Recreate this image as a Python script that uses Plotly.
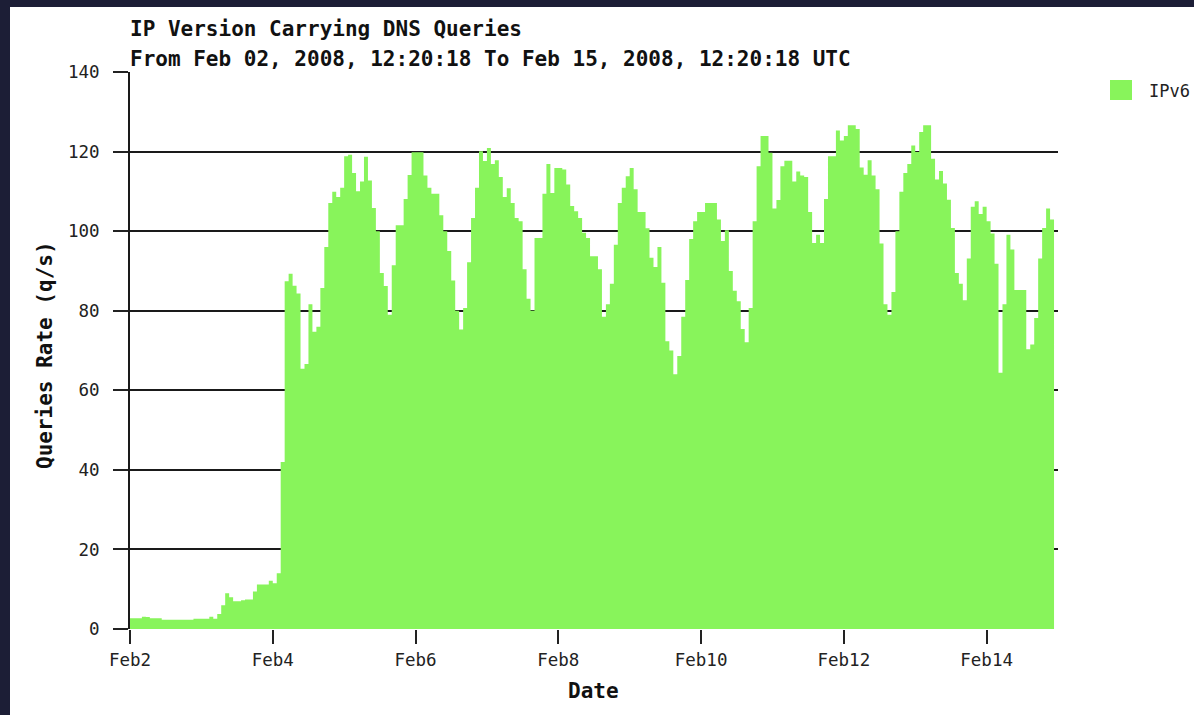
import plotly.graph_objects as go
import pandas as pd

# ---------------- data ----------------
start_time = "2008-02-02 12:20:18"
bin_minutes = 80
ipv6_rate = [
    2.7, 2.7, 2.7, 3.1, 3.0, 2.7, 2.7, 2.7, 2.3, 2.3,
    2.3, 2.3, 2.3, 2.3, 2.3, 2.3, 2.6, 2.6, 2.6, 2.6,
    3.1, 2.6, 3.8, 6.0, 9.0, 8.0, 7.0, 7.0, 7.2, 7.4,
    7.4, 9.4, 11.2, 11.2, 11.2, 12.1, 11.5, 14.0, 42.0, 87.4,
    89.3, 86.3, 84.3, 65.4, 66.6, 81.6, 74.7, 76.0, 85.7, 96.0,
    107.1, 109.9, 108.6, 110.9, 118.8, 119.2, 114.6, 110.0, 112.5, 118.7,
    112.7, 105.8, 100.0, 89.5, 86.2, 79.0, 91.4, 101.5, 101.5, 108.1,
    114.1, 119.8, 119.8, 119.8, 114.0, 110.9, 109.4, 109.4, 104.0, 100.0,
    95.0, 87.6, 80.0, 75.3, 80.7, 92.2, 103.3, 110.9, 120.1, 117.6,
    120.9, 116.9, 117.8, 113.6, 108.6, 110.8, 107.1, 103.3, 102.5, 90.4,
    83.0, 80.0, 98.3, 98.3, 109.4, 116.9, 109.6, 115.9, 115.9, 115.5,
    111.7, 106.3, 105.0, 103.3, 99.6, 98.3, 93.7, 93.7, 90.4, 78.5,
    81.6, 86.8, 96.6, 107.1, 110.9, 113.8, 115.9, 110.5, 104.8, 104.8,
    100.7, 93.3, 91.0, 96.0, 87.0, 72.3, 70.0, 64.0, 68.6, 78.5,
    87.7, 98.0, 102.5, 104.8, 104.8, 107.1, 107.1, 107.1, 102.9, 97.5,
    100.2, 90.0, 85.0, 82.4, 75.4, 72.1, 80.7, 102.5, 116.3, 123.9,
    123.9, 119.7, 105.7, 107.8, 116.3, 117.7, 117.7, 112.5, 115.0, 114.0,
    113.6, 104.8, 97.0, 99.1, 97.0, 108.1, 118.8, 118.8, 125.3, 122.8,
    123.9, 126.6, 126.6, 125.7, 116.0, 114.2, 117.8, 114.0, 110.5, 96.9,
    81.6, 79.0, 84.7, 100.0, 109.9, 114.6, 116.9, 121.5, 119.9, 124.9,
    126.6, 126.6, 118.2, 113.0, 115.1, 112.0, 107.9, 100.8, 89.5, 86.8,
    82.6, 93.1, 106.1, 107.5, 104.3, 106.1, 102.5, 99.4, 91.8, 64.4,
    81.6, 99.1, 95.4, 85.2, 85.2, 85.2, 70.3, 71.5, 78.2, 93.1,
    100.8, 105.7, 102.9,
]
span_days = 13
tick_day_offsets = [0, 2, 4, 6, 8, 10, 12]
tick_labels = ["Feb2", "Feb4", "Feb6", "Feb8", "Feb10", "Feb12", "Feb14"]
y_ticks = [0, 20, 40, 60, 80, 100, 120, 140]
series_name = "IPv6"
title_line1 = "IP Version Carrying DNS Queries"
title_line2 = "From Feb 02, 2008, 12:20:18 To Feb 15, 2008, 12:20:18 UTC"
x_title = "Date"
y_title = "Queries Rate (q/s)"

# ---------------- build ----------------
t0 = pd.Timestamp(start_time)
n = len(ipv6_rate)
# step series: each bin value holds until the next bin start
x_steps = [t0 + pd.Timedelta(minutes=bin_minutes * i) for i in range(n + 1)]
y_steps = ipv6_rate + [ipv6_rate[-1]]
tick_vals = [t0 + pd.Timedelta(days=d) for d in tick_day_offsets]
x_end = t0 + pd.Timedelta(days=span_days)

GREEN = "#88F45B"
MONO = "DejaVu Sans Mono"
INK = "#111111"
W, H = 1194, 715
ML, MR, MT, MB = 130, 136, 72, 86
PW = W - ML - MR
PH = H - MT - MB


def px_x(p):
    return (p - ML) / PW


def px_y(p):
    return (H - MB - p) / PH


fig = go.Figure()
fig.add_trace(go.Scatter(
    x=x_steps, y=y_steps, name=series_name,
    mode="lines", line=dict(shape="hv", width=0, color=GREEN),
    fill="tozeroy", fillcolor=GREEN,
    showlegend=False, hoverinfo="x+y",
))

fig.update_layout(
    width=W, height=H,
    margin=dict(l=ML, r=MR, t=MT, b=MB, pad=0),
    paper_bgcolor="#1c1e36",
    plot_bgcolor="rgba(0,0,0,0)",
    showlegend=False,
    font=dict(family=MONO, color=INK),
    xaxis=dict(
        type="date", range=[t0, x_end],
        tickmode="array", tickvals=tick_vals, ticktext=tick_labels,
        ticks="outside", ticklen=14, tickwidth=2, tickcolor="#222222",
        tickfont=dict(family=MONO, size=17.5, color="#222222"),
        showgrid=False, showline=False, zeroline=False,
        ticklabelstandoff=1,
    ),
    yaxis=dict(
        range=[0, 140], tickmode="array", tickvals=y_ticks,
        ticks="outside", ticklen=15, tickwidth=2, tickcolor="#222222",
        tickfont=dict(family=MONO, size=17.5, color="#222222"),
        showgrid=True, gridcolor="#1a1a1a", gridwidth=2,
        showline=True, linecolor="#1a1a1a", linewidth=2,
        zeroline=False,
        ticklabelstandoff=10,
    ),
    shapes=[
        dict(type="rect", xref="paper", yref="paper", layer="below",
             x0=px_x(10), x1=px_x(W + 20), y0=px_y(H + 20), y1=px_y(7),
             fillcolor="white", line=dict(width=0)),
        dict(type="rect", xref="paper", yref="paper",
             x0=px_x(1110), x1=px_x(1132), y0=px_y(100), y1=px_y(80),
             fillcolor=GREEN, line=dict(width=0)),
    ],
    annotations=[
        dict(text=title_line1, xref="paper", yref="paper", x=px_x(128), y=px_y(29),
             xanchor="left", yanchor="middle", showarrow=False,
             font=dict(family=MONO, size=21, color=INK, weight="bold")),
        dict(text=title_line2, xref="paper", yref="paper", x=px_x(128), y=px_y(59),
             xanchor="left", yanchor="middle", showarrow=False,
             font=dict(family=MONO, size=21, color=INK, weight="bold")),
        dict(text=y_title, xref="paper", yref="paper", x=px_x(45), y=px_y(355),
             xanchor="center", yanchor="middle", textangle=-90, showarrow=False,
             font=dict(family=MONO, size=21, color=INK, weight="bold")),
        dict(text=x_title, xref="paper", yref="paper", x=px_x(593), y=px_y(691),
             xanchor="center", yanchor="middle", showarrow=False,
             font=dict(family=MONO, size=21, color=INK, weight="bold")),
        dict(text=series_name, xref="paper", yref="paper", x=px_x(1147), y=px_y(91),
             xanchor="left", yanchor="middle", showarrow=False,
             font=dict(family=MONO, size=17, color="#222222")),
    ],
)

fig.write_html(
    "out.html",
    config={"displayModeBar": False},
    post_script="document.body.style.margin='0';document.body.style.background='#1c1e36';",
)
